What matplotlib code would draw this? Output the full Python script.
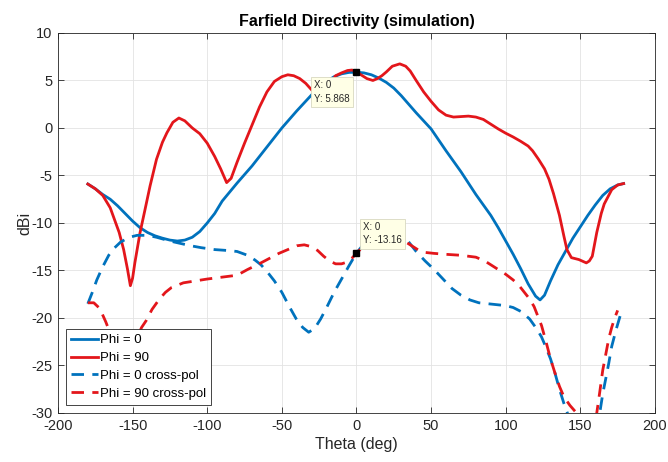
import matplotlib
matplotlib.use("Agg")
import matplotlib.pyplot as plt

plt.rcParams['font.family'] = ['Liberation Sans', 'DejaVu Sans']
plt.rcParams['axes.unicode_minus'] = False

# Phi = 0 (co-pol)
theta_phi0 = [-180, -175, -170, -165, -160, -155, -150, -145, -140, -135, -130, -125, -120, -115,
              -110, -105, -100, -95, -90, -80, -70, -60, -50, -40, -30, -20, -15, -10, -5, 0, 5, 10,
              15, 20, 25, 30, 40, 50, 60, 70, 80, 90, 95, 100, 105, 110, 115, 120, 123, 126, 130,
              135, 140, 145, 150, 155, 160, 165, 170, 175, 179]
dbi_phi0 = [-5.9, -6.4, -7.0, -7.5, -8.2, -9.0, -9.8, -10.5, -11.0, -11.35, -11.6, -11.8, -11.9,
            -11.8, -11.5, -10.9, -10.0, -9.0, -7.7, -5.8, -4.0, -2.0, 0.0, 1.8, 3.5, 4.9, 5.4, 5.7,
            5.85, 5.87, 5.8, 5.6, 5.25, 4.8, 4.2, 3.4, 1.6, -0.1, -2.4, -4.6, -7.0, -9.2, -10.5,
            -11.9, -13.3, -14.8, -16.4, -17.7, -18.1, -17.6, -16.1, -14.4, -13.0, -11.6, -10.4,
            -9.2, -8.1, -7.1, -6.4, -6.0, -5.85]

# Phi = 90 (co-pol)
theta_phi90 = [-180, -175, -170, -165, -162, -159, -156, -153.5, -151.5, -150, -148.5, -145, -141.7,
               -138.3, -134, -130, -127, -123, -119, -115, -110, -105, -100, -95, -91, -87, -84,
               -80, -75, -70, -65, -60, -55, -50, -46, -42, -38, -34, -30, -26, -22, -18, -14, -10,
               -6, -3, 0, 3, 7, 11, 14, 17, 20, 24, 29, 33, 36, 40, 45, 50, 55, 60, 65, 70, 75, 80,
               85, 90, 95, 100, 105, 110, 115, 118, 122, 126, 129, 132, 136, 139, 141, 144, 149,
               154, 156, 158, 161, 164, 166, 171, 175, 179]
dbi_phi90 = [-5.9, -6.4, -7.1, -8.4, -9.7, -11.0, -12.8, -14.8, -16.6, -15.8, -14.2, -11.0, -8.6,
             -6.1, -3.3, -1.5, -0.5, 0.6, 1.05, 0.75, 0.0, -0.6, -1.6, -3.0, -4.3, -5.75, -5.3,
             -3.6, -1.6, 0.3, 2.2, 3.8, 4.9, 5.4, 5.6, 5.5, 5.2, 4.7, 4.0, 3.6, 3.8, 4.6, 5.5, 5.8,
             6.05, 6.1, 5.95, 5.6, 5.2, 5.0, 5.2, 5.5, 5.9, 6.5, 6.75, 6.5, 6.0, 5.0, 3.8, 2.8, 1.9,
             1.35, 1.15, 1.2, 1.25, 1.15, 0.9, 0.4, -0.1, -0.55, -0.95, -1.4, -1.9, -2.4, -3.3, -4.3,
             -5.4, -6.9, -9.2, -11.4, -12.8, -13.65, -13.85, -14.2, -14.0, -13.5, -11.0, -9.0, -8.0,
             -6.5, -6.0, -5.85]

# Phi = 0 cross-pol
theta_phi0_x = [-180, -177, -174, -170, -166, -162, -158, -152, -147, -140, -134, -125, -118, -111,
                -104, -95, -86, -80, -73, -68, -64, -60, -55, -50, -45, -40, -36, -32, -28,
                -24, -20, -15, -10, -5, 0, 5, 10, 15, 20, 25, 31, 35, 40, 46, 52, 58, 64, 70, 76,
                82, 88, 94, 100, 105, 110, 116, 121, 124, 127, 130, 133, 136, 139, 142, 147, 152,
                157, 161, 163, 165, 167, 169, 171, 174, 177]
dbi_phi0_x = [-18.5, -17.3, -16.0, -14.6, -13.4, -12.6, -12.0, -11.5, -11.3, -11.3, -11.5, -11.9,
              -12.15, -12.4, -12.6, -12.8, -12.9, -13.0, -13.4, -13.9, -14.4, -15.1, -16.1,
              -17.3, -18.8, -20.2, -21.0, -21.5, -21.1, -20.1, -18.9, -17.3, -15.9, -14.5, -13.16,
              -12.2, -11.5, -11.1, -10.9, -10.9, -11.3, -12.0, -13.0, -14.0, -14.9, -15.9, -16.9,
              -17.6, -18.1, -18.4, -18.5, -18.6, -18.7, -18.9, -19.3, -20.1, -21.2, -22.0, -23.1,
              -24.3, -25.8, -27.5, -29.0, -30.3, -32.0, -33.5, -33.5, -31.5, -30.0, -28.0, -26.4,
              -24.8, -23.0, -21.2, -19.6]

# Phi = 90 cross-pol
theta_phi90_x = [-180, -176, -172, -168, -164, -160, -156, -152, -148, -144, -141, -137, -132, -128,
                 -124, -116, -108, -100, -90, -80, -73, -64, -58, -52, -46, -40, -35, -30, -26, -22,
                 -18, -14, -10, -6, -3, 0, 3, 7, 12, 18, 24, 30, 34, 38, 42, 46, 52, 60, 70, 80, 86,
                 92, 100, 105, 109, 113, 116, 119, 121, 124, 127, 130, 133, 136, 139, 143, 148, 152,
                 156, 159, 161, 163, 165, 169, 171, 173, 175]
dbi_phi90_x = [-18.4, -18.4, -19.0, -20.4, -22.0, -23.4, -24.3, -24.0, -22.5, -21.0, -20.3, -19.1,
               -18.0, -17.3, -16.8, -16.3, -16.1, -15.9, -15.7, -15.5, -14.9, -14.2, -13.7, -13.2,
               -12.8, -12.4, -12.3, -12.5, -12.9, -13.5, -14.0, -14.3, -14.3, -14.1, -13.7, -13.2,
               -12.7, -12.3, -12.0, -11.8, -11.7, -11.8, -12.1, -12.5, -12.9, -13.1, -13.2, -13.3,
               -13.4, -13.6, -14.0, -14.6, -15.4, -16.0, -16.6, -17.4, -18.0, -18.8, -19.6, -20.8,
               -22.5, -24.3, -25.8, -27.2, -28.3, -29.2, -30.1, -31.5, -32.5, -31.5, -30.0, -27.8,
               -25.5, -22.2, -21.0, -20.0, -19.2]

# data tips
tip_x = [0, 0]
tip_y = [5.868, -13.16]

blue = '#0072BD'
red = '#E3161B'
dark = '#262626'

fig = plt.figure(figsize=(6.68, 4.62), dpi=100)
ax = fig.add_axes([0.0868, 0.1061, 0.8937, 0.8225])

ax.plot(theta_phi0, dbi_phi0, color=blue, lw=2, label='Phi = 0')
ax.plot(theta_phi90, dbi_phi90, color=red, lw=2, label='Phi = 90')
ax.plot(theta_phi0_x, dbi_phi0_x, color=blue, lw=2, dashes=(4.5, 3), label='Phi = 0 cross-pol')
ax.plot(theta_phi90_x, dbi_phi90_x, color=red, lw=2, dashes=(4.5, 3), label='Phi = 90 cross-pol')

ax.set_xlim(-200, 200)
ax.set_ylim(-30, 10)
ax.set_xticks(range(-200, 201, 50))
ax.set_yticks(range(-30, 11, 5))
ax.grid(True, color='#e3e3e3', lw=0.6)
ax.set_axisbelow(True)
ax.tick_params(direction='in', top=True, right=True, length=4, width=0.6,
               colors=dark, labelsize=10.5, pad=4)
for s in ax.spines.values():
    s.set_color(dark)
    s.set_linewidth(0.6)

ax.set_title('Farfield Directivity (simulation)', fontsize=11.5, fontweight='bold', pad=5)
ax.set_xlabel('Theta (deg)', fontsize=11.5, color=dark, labelpad=3)
ax.set_ylabel('dBi', fontsize=11.5, color=dark, labelpad=-1)

# data tip markers and boxes
ax.plot(tip_x, tip_y, ls='none', marker='s', ms=5, color='black', zorder=6)
ax.text(-28.5, 5.0, f'X: {tip_x[0]:g}\nY: {tip_y[0]:.3f}', fontsize=7, color=dark,
        ha='left', va='top', linespacing=1.4, zorder=7,
        bbox=dict(boxstyle='square,pad=0.35', fc='#FFFFE6', ec='#d8d8c0', lw=0.6))
ax.text(4.5, -9.9, f'X: {tip_x[1]:g}\nY: {tip_y[1]:.2f}', fontsize=7, color=dark,
        ha='left', va='top', linespacing=1.4, zorder=7,
        bbox=dict(boxstyle='square,pad=0.35', fc='#FFFFE6', ec='#d8d8c0', lw=0.6))

leg = ax.legend(loc='lower left', fontsize=9.5, fancybox=False, framealpha=1,
                edgecolor=dark, handlelength=2.0, handletextpad=0.15,
                labelspacing=0.42, borderpad=0.4, borderaxespad=0.6)
leg.get_frame().set_linewidth(0.6)
leg.set_zorder(10)

fig.savefig('out.png', dpi=100)
